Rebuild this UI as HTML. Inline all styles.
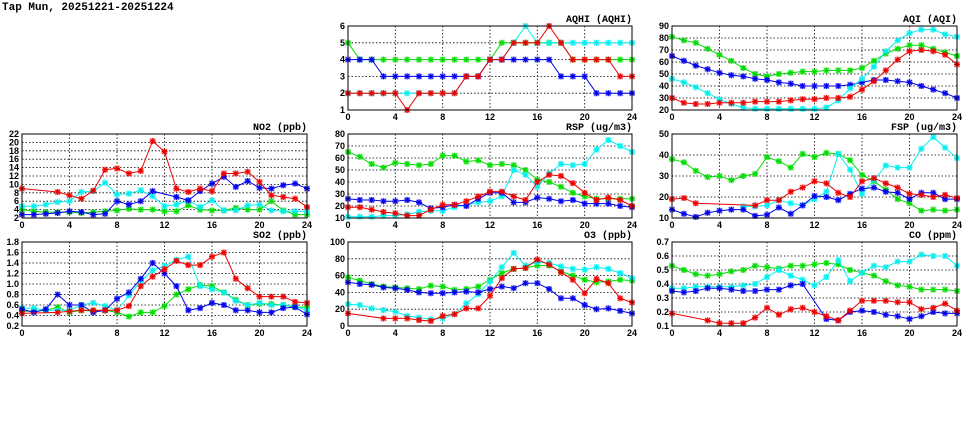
<!DOCTYPE html>
<html><head><meta charset="utf-8"><style>
html,body{margin:0;padding:0;background:#fff;}
svg{display:block;}
text{font-family:"Liberation Sans",sans-serif;font-weight:bold;font-size:9px;fill:#000;}
.t{font-family:"Liberation Mono",monospace;font-size:10px;}
</style></head><body>
<svg id="s" width="975" height="447" xmlns="http://www.w3.org/2000/svg">
<text class="t" x="2" y="10" style="font-size:11px">Tap Mun, 20251221-20251224</text>
</svg>
<script>
var N=null;
var C={g:"#00dd00",c:"#00f0f0",b:"#0000ee",r:"#ee0000"};
var P=[
{x:348,y:26,w:284,h:84,t:"AQHI (AQHI)",min:1,max:6,st:1,dec:0,s:[
["g",[5,4,4,4,4,4,4,4,4,4,4,4,4,5,5,5,5,5,5,4,4,4,4,4,4]],
["c",[2,2,2,2,2,2,2,2,2,2,3,3,4,4,5,6,5,5,5,5,5,5,5,5,5]],
["b",[4,4,4,3,3,3,3,3,3,3,3,3,4,4,4,4,4,4,3,3,3,2,2,2,2]],
["r",[2,2,2,2,2,1,2,2,2,2,3,3,4,4,5,5,5,6,5,4,4,4,4,3,3]]]},
{x:672,y:26,w:285,h:84,t:"AQI (AQI)",min:20,max:90,st:10,dec:0,s:[
["g",[81,78,76,71,66,61,55,50,48,50,51,52,52,53,53,53,55,61,67,71,74,74,71,68,65]],
["b",[65,61,57,54,51,49,48,46,45,43,42,40,40,40,40,41,43,45,45,44,43,40,37,34,30]],
["c",[46,43,39,34,29,25,22,21,21,21,21,21,21,22,28,38,46,56,69,78,84,87,87,83,81]],
["r",[30,26,25,25,26,26,26,27,27,27,28,29,29,30,30,31,37,44,53,62,69,70,69,66,58]]]},
{x:22,y:134,w:285,h:84,t:"NO2 (ppb)",min:2,max:22,st:2,dec:0,s:[
["g",[4,3.6,3.4,3.4,3.4,3.2,3.4,3.6,3.8,4.2,4,4,3.6,3.6,5,4,3.8,3.8,4.4,4,4,6,3.8,2.8,2.8]],
["c",[4.8,4.8,5.2,5.8,6,8.2,8.4,10.4,7.6,7.8,8.6,7.2,4.8,5.2,6.2,4.6,6.2,3.8,3.8,5,5.2,3.8,3.6,3.6,3.6]],
["b",[2.8,2.8,3,3.2,3.6,3.4,2.8,3,6,5.2,6,8.4,N,7,6.2,8.4,10.2,11.8,9.4,10.8,9.2,9,9.8,10.2,9]],
["r",[9,N,N,8.2,7.4,6.6,8.5,13.5,13.8,12.6,13.2,20.3,17.8,9,8.2,9,8.4,12.6,12.6,13,10.6,7.4,7,6.6,4.6]]]},
{x:348,y:134,w:284,h:84,t:"RSP (ug/m3)",min:10,max:80,st:10,dec:0,s:[
["g",[65,61,55,52,56,55,54,55,62,62,57,58,54,55,54,50,42,40,36,31,28,26,26,26,26]],
["c",[11,11,11,12,12,13,15,16,16,19,21,23,24,28,50,46,36,47,55,54,55,67,75,70,65]],
["b",[26,25,25,24,24,25,23,18,19,21,20,26,31,31,23,23,27,26,24,25,22,22,22,20,19]],
["r",[19,19,17,15,14,12,12,17,21,21,24,28,32,32,28,25,40,46,45,39,31,25,27,25,20]]]},
{x:672,y:134,w:285,h:84,t:"FSP (ug/m3)",min:10,max:50,st:10,dec:0,s:[
["g",[38,36.5,32.5,29.5,30,28,30,31,39,37,34,40.5,39,41,40.5,37.5,30.5,27.5,23.5,19,17,13.5,14,13.5,14]],
["c",[N,N,N,N,N,N,15.5,15.5,16,18.5,17,16,19,22.5,40.5,33,21.5,28,35,34,34,43,48.5,43.5,38.5]],
["b",[14,12,10.5,12.5,13.5,14,14,11,11.5,15,12,16,20.5,20,18.5,21.5,24,24.5,22.5,22,19,22,22,19,19]],
["r",[19,19.5,17,N,N,N,N,16,18.5,18.5,22.5,24.5,27.5,26.5,22,20,27.5,29,26.5,24.5,21.5,21,20,21,19.5]]]},
{x:22,y:242,w:285,h:84,t:"SO2 (ppb)",min:0.2,max:1.8,st:0.2,dec:1,s:[
["g",[.48,.48,.5,.56,.46,.5,.48,.5,.46,.38,.46,.46,.58,.8,.9,.98,.96,.84,.7,.6,.62,.62,.6,.56,.56]],
["c",[.54,.54,.5,.5,.5,.6,.64,.58,.5,.78,1.06,1.26,1.34,1.46,1.52,.96,.9,.84,.68,.6,.64,.6,.6,.58,.5]],
["b",[.52,.46,.52,.8,.6,.6,.46,.5,.72,.84,1.1,1.4,1.2,.96,.5,.54,.64,.6,.5,.5,.46,.46,.54,.56,.42]],
["r",[.44,N,N,.46,.48,.5,.5,.5,.5,.58,.96,1.14,1.28,1.44,1.36,1.36,1.52,1.6,1.1,.92,.76,.76,.76,.66,.64]]]},
{x:348,y:242,w:284,h:84,t:"O3 (ppb)",min:0,max:100,st:20,dec:0,s:[
["g",[58,54,50,47,46,45,44,48,47,43,44,47,55,63,68,69,72,72,65,60,55,52,53,55,54]],
["c",[26,25,21,19,17,12,10,8,9,14,27,38,53,70,87,72,76,75,71,68,67,70,68,63,57]],
["b",[52,50,49,46,45,43,40,39,39,40,41,40,44,47,45,51,51,44,33,33,25,20,21,18,15]],
["r",[15,N,N,9,9,9,7,6,12,14,21,21,36,57,68,69,79,73,64,55,39,56,51,33,28]]]},
{x:672,y:242,w:285,h:84,t:"CO (ppm)",min:0.1,max:0.7,st:0.1,dec:1,s:[
["g",[.53,.5,.47,.46,.47,.49,.5,.53,.52,.51,.53,.53,.54,.55,.54,.5,.48,.46,.42,.39,.38,.36,.36,.36,.35]],
["c",[.37,.37,.38,.38,.38,.38,.39,.4,.45,.5,.46,.43,.39,.45,.57,.42,.48,.53,.52,.56,.56,.61,.6,.6,.53]],
["b",[.35,.34,.35,.37,.37,.36,.35,.35,.36,.36,.39,.4,N,.15,.14,.2,.21,.2,.18,.17,.15,.17,.2,.19,.19]],
["r",[.19,N,N,.14,.12,.12,.12,.16,.23,.18,.22,.23,.2,.17,.14,.21,.28,.28,.28,.27,.27,.22,.23,.26,.21]]]}
];
var o='';
P.forEach(function(p){
 var X=function(i){return p.x+p.w*i/24},Y=function(v){return p.y+p.h-(v-p.min)/(p.max-p.min)*p.h};
 var n=Math.round((p.max-p.min)/p.st);
 for(var k=0;k<=n;k++){var v=p.min+k*p.st,y=Y(v).toFixed(1);
  if(k>0&&k<n)o+='<line x1="'+p.x+'" x2="'+(p.x+p.w)+'" y1="'+y+'" y2="'+y+'" stroke="#000" stroke-width="0.8" stroke-dasharray="1.5,2"/>';
  o+='<text x="'+(p.x-3)+'" y="'+(+y+3)+'" text-anchor="end">'+v.toFixed(p.dec)+'</text>';}
 for(var i=0;i<=24;i+=4){var x=X(i).toFixed(1);
  if(i>0&&i<24)o+='<line x1="'+x+'" x2="'+x+'" y1="'+p.y+'" y2="'+(p.y+p.h)+'" stroke="#000" stroke-width="0.8" stroke-dasharray="1.5,2"/>';
  o+='<text x="'+x+'" y="'+(p.y+p.h+10)+'" text-anchor="middle">'+i+'</text>';}
 p.s.forEach(function(s){var col=C[s[0]],d=s[1],pts=[];
  d.forEach(function(v,i){if(v!==N)pts.push([X(i),Y(v)])});
  o+='<polyline fill="none" stroke="'+col+'" stroke-width="1" points="'+pts.map(function(q){return q[0].toFixed(1)+','+q[1].toFixed(1)}).join(' ')+'"/>';
  pts.forEach(function(q){var a=q[0],b=q[1];
   o+='<rect x="'+(a-3).toFixed(1)+'" y="'+(b-3).toFixed(1)+'" width="6" height="6" fill="'+col+'" opacity="0.3"/>';
   o+='<path d="M'+(a-3)+' '+b+'h6M'+a+' '+(b-3)+'v6M'+(a-2.2)+' '+(b-2.2)+'l4.4 4.4M'+(a-2.2)+' '+(b+2.2)+'l4.4 -4.4" stroke="'+col+'" stroke-width="1.1"/>';});
 });
 o+='<rect x="'+p.x+'" y="'+p.y+'" width="'+p.w+'" height="'+p.h+'" fill="none" stroke="#000" stroke-width="1"/>';
 o+='<text class="t" x="'+(p.x+p.w)+'" y="'+(p.y-4)+'" text-anchor="end">'+p.t+'</text>';
});
document.getElementById('s').insertAdjacentHTML('beforeend',o);
</script>
</body></html>
